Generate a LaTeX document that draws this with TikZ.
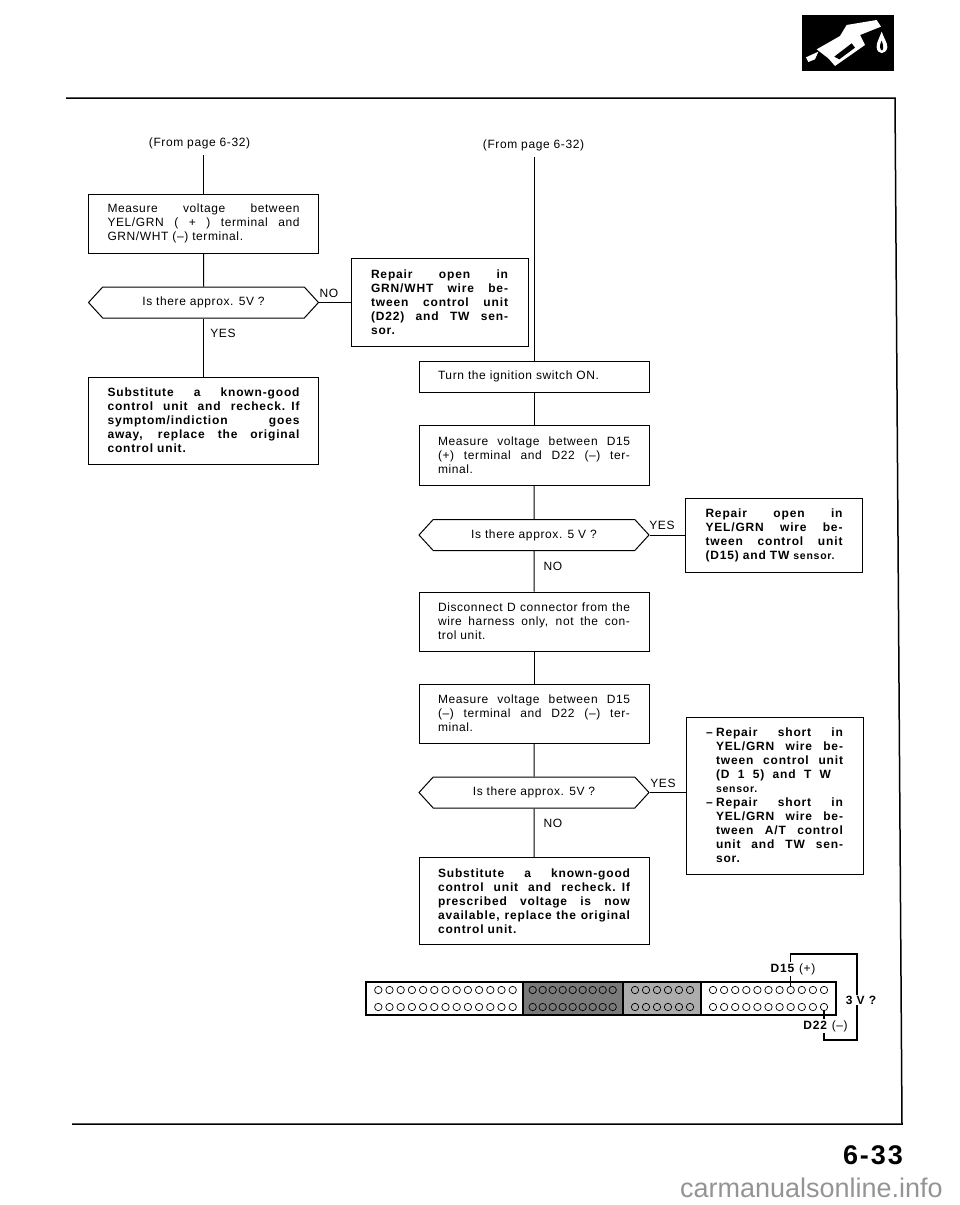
\documentclass[tikz,border=0pt]{standalone}
\usepackage{fontspec}
\setmainfont{Liberation Sans}[LetterSpace=5,BoldFeatures={LetterSpace=7}]
\usetikzlibrary{shapes.symbols}

\newlength{\boxwd}
\newcommand{\jl}[1]{{\spaceskip=.28em plus 1fil\makebox[\boxwd][s]{#1}}}

\tikzset{
  x=1pt,y=-1pt,
  every node/.style={font=\fontsize{12}{14}\selectfont,inner sep=0pt},
  link/.style={line width=1pt},
  widebox/.style={draw,line width=1pt,minimum width=230,text width=192,align=left,execute at begin node={\setlength{\boxwd}{192pt}}},
  narrowbox/.style={draw,line width=1pt,minimum width=177,text width=137,align=left,execute at begin node={\setlength{\boxwd}{137pt}}},
  question/.style={draw,line width=1pt,shape=signal,signal to=east and west,signal pointer angle=95,
    minimum width=230,minimum height=31},
  pinhole/.style={draw,line width=.7pt,circle,minimum size=7.4pt},
  answer/.style={font=\fontsize{12}{14}\selectfont},
  wirelabel/.style={fill=white,inner sep=1pt}
}

\begin{document}
\begin{tikzpicture}
\useasboundingbox (0,0) rectangle (960,1205);

% page frame
\draw[line width=1.5pt] (66,98) -- (895,98) -- (902,1124) -- (72,1124);

% fuel icon
\begin{scope}[shift={(780,0)},x=.3333pt,y=-.3333pt]
\fill[black] (66,45) rectangle (343,213);
\fill[white] (78,172) -- (115,155) -- (105,178) -- (85,186) -- cycle;
\fill[white] (110,148) -- (180,108) -- (200,75) -- (290,60) -- (303,80) -- (240,105) -- (255,135) -- (165,198) -- (145,175) -- cycle;
\fill[black] (163,170) -- (215,130) -- (225,143) -- (178,178) -- cycle;
\fill[white] (305,95) .. controls (298,115) and (288,130) .. (290,142) .. controls (292,165) and (318,165) .. (322,142) .. controls (323,130) and (312,115) .. (305,95);
\fill[black] (305,122) .. controls (300,132) and (298,140) .. (303,150) .. controls (308,155) and (314,145) .. (305,122);
\end{scope}

% left column
\node (fromleft) at (199.5,143) {(From page 6-32)};
\coordinate (topleft) at (203.5,155);
\node[widebox,minimum height=59] (measurea) at (203.5,223.5) {\jl{Measure voltage between}\\\jl{YEL/GRN ( + ) terminal and}\\GRN/WHT (–) terminal.};
\node[question] (approxa) at (203.5,302.5) {Is there approx. 5V ?};
\node[narrowbox,minimum height=88,font=\fontsize{12}{14}\selectfont\bfseries] (repaira) at (439.5,302) {\jl{Repair open in}\\\jl{GRN/WHT wire be-}\\\jl{tween control unit}\\\jl{(D22) and TW sen-}\\sor.};
\node[widebox,minimum height=87,font=\fontsize{12}{14}\selectfont\bfseries] (substa) at (203.5,420.5) {\jl{Substitute a known-good}\\\jl{control unit and recheck. If}\\\jl{symptom/indiction goes}\\\jl{away, replace the original}\\control unit.};
\node[answer] (noa) at (329,293) {NO};
\node[answer] (yesa) at (223,333) {YES};

\draw[link] (topleft) -- (measurea.north);
\draw[link] (measurea) -- (approxa);
\draw[link] (approxa) -- (substa);
\draw[link] (approxa.east) -- (repaira.west |- approxa.east);

% right column
\node (fromright) at (533.5,145) {(From page 6-32)};
\coordinate (topright) at (534,157);
\node[widebox,minimum height=31] (turn) at (534,376.5) {Turn the ignition switch ON.};
\node[widebox,minimum height=60] (measureb) at (534,455) {\jl{Measure voltage between D15}\\\jl{(+) terminal and D22 (–) ter-}\\minal.};
\node[question] (approxb) at (534,535) {Is there approx. 5 V ?};
\node[narrowbox,minimum height=74,font=\fontsize{12}{14}\selectfont\bfseries] (repairb) at (774,535) {\jl{Repair open in}\\\jl{YEL/GRN wire be-}\\\jl{tween control unit}\\(D15) and TW {\fontsize{10.5}{14}\selectfont sensor.}};
\node[widebox,minimum height=59] (disc) at (534,621.5) {\jl{Disconnect D connector from the}\\\jl{wire harness only, not the con-}\\trol unit.};
\node[widebox,minimum height=59] (measurec) at (534,713.5) {\jl{Measure voltage between D15}\\\jl{(–) terminal and D22 (–) ter-}\\minal.};
\node[question] (approxc) at (534,792.5) {Is there approx. 5V ?};
\node[narrowbox,minimum height=157,font=\fontsize{12}{14}\selectfont\bfseries] (repairc) at (774.5,795.5) {\jl{\makebox[10pt][l]{–}Repair short in}\\\jl{\hspace*{10pt}YEL/GRN wire be-}\\\jl{\hspace*{10pt}tween control unit}\\\jl{\hspace*{10pt}(D 1 5) and T W\hspace*{12pt}}\\\hspace*{10pt}{\fontsize{10.5}{14}\selectfont sensor.}\\\jl{\makebox[10pt][l]{–}Repair short in}\\\jl{\hspace*{10pt}YEL/GRN wire be-}\\\jl{\hspace*{10pt}tween A/T control}\\\jl{\hspace*{10pt}unit and TW sen-}\\\hspace*{10pt}sor.};
\node[widebox,minimum height=87,font=\fontsize{12}{14}\selectfont\bfseries] (substb) at (534,901) {\jl{Substitute a known-good}\\\jl{control unit and recheck. If}\\\jl{prescribed voltage is now}\\\jl{available, replace the original}\\control unit.};
\node[answer] (yesb) at (662,525) {YES};
\node[answer] (nob) at (553,566) {NO};
\node[answer] (yesc) at (663,783) {YES};
\node[answer] (noc) at (553,823) {NO};

\draw[link] (topright) -- (turn.north);
\draw[link] (turn) -- (measureb);
\draw[link] (measureb) -- (approxb);
\draw[link] (approxb) -- (disc);
\draw[link] (disc) -- (measurec);
\draw[link] (measurec) -- (approxc);
\draw[link] (approxc) -- (substb);
\draw[link] (approxb.east) -- (repairb.west |- approxb.east);
\draw[link] (approxc.east) -- (repairc.west |- approxc.east);

% connector
\fill[black!52] (523,982) rectangle (623,1015);
\fill[black!32] (623,982) rectangle (701,1015);
\draw[line width=1.6pt] (366,982) rectangle (836,1015);
\foreach \xx in {523,623,701}
  \draw[line width=1.4pt] (\xx,982) -- (\xx,1015);
\foreach \rowy/\rowname in {990/t,1007/b} {
  \foreach \n in {0,...,12}
    \node[pinhole] (a\rowname\n) at (378.3+11.2*\n,\rowy) {};
  \foreach \n in {0,...,8}
    \node[pinhole] (g\rowname\n) at (532.7+10*\n,\rowy) {};
  \foreach \n in {0,...,5}
    \node[pinhole] (h\rowname\n) at (635+11*\n,\rowy) {};
  \foreach \n in {0,...,10}
    \node[pinhole] (c\rowname\n) at (713+11.1*\n,\rowy) {};
}
\coordinate (wirea) at (857,954);
\coordinate (wireb) at (857,1040);
\draw[line width=1.1pt] (ct7.north) |- (wirea) -- (wireb) -| (cb10.south);
\node[wirelabel] (dplus) at (793,969) {\textbf{D15} (+)};
\node[wirelabel] (dminus) at (825.5,1026) {\textbf{D22} (–)};
\node[wirelabel,font=\fontsize{12}{14}\selectfont\bfseries] (volts) at (861,1000) {3 V ?};

% page number
\node[font=\fontsize{27}{30}\selectfont\bfseries,anchor=east] (page) at (903,1155) {6-33};
\node[font=\fontsize{27}{30}\selectfont\addfontfeature{LetterSpace=0},text=black!42,anchor=east] (mark) at (943,1188) {carmanualsonline.info};
\end{tikzpicture}
\end{document}
